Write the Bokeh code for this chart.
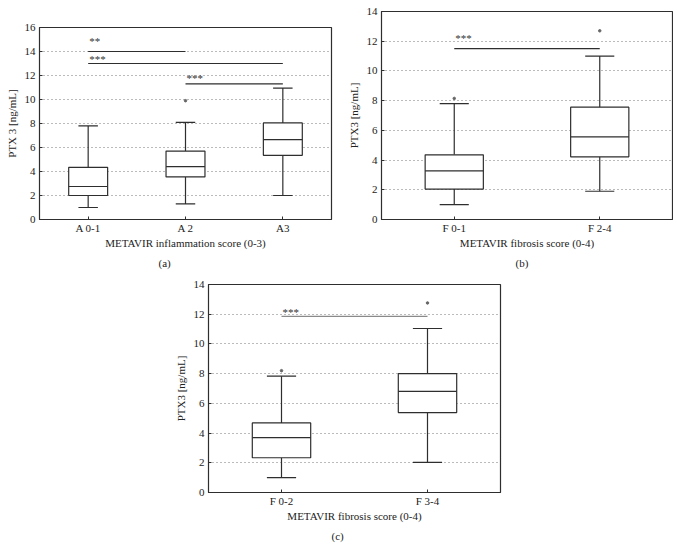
from bokeh.plotting import figure
from bokeh.models import Range1d, FactorRange, SingleIntervalTicker, Title, ColumnDataSource
from bokeh.transform import dodge
from bokeh.layouts import column, row
from bokeh.core.properties import value
from bokeh.embed import file_html
from bokeh.resources import INLINE

# ---------------- data ----------------
# (a) METAVIR inflammation score
cats_a = ["A 0-1", "A 2", "A3"]
low_a = [1.0, 1.3, 2.0]
q1_a = [2.0, 3.55, 5.35]
med_a = [2.75, 4.4, 6.65]
q3_a = [4.35, 5.7, 8.05]
high_a = [7.8, 8.1, 10.95]
out_x_a = ["A 2"]
out_y_a = [9.9]
sig_from_a = ["A 0-1", "A 0-1", "A 2"]
sig_to_a = ["A 2", "A3", "A3"]
sig_y_a = [14.0, 13.0, 11.3]
sig_text_a = ["**", "***", "***"]
sig_text_y_a = [14.8, 13.3, 11.75]

# (b) METAVIR fibrosis score F0-1 vs F2-4
cats_b = ["F 0-1", "F 2-4"]
low_b = [1.0, 1.9]
q1_b = [2.05, 4.22]
med_b = [3.27, 5.56]
q3_b = [4.35, 7.56]
high_b = [7.8, 11.0]
out_x_b = ["F 0-1", "F 2-4"]
out_y_b = [8.15, 12.7]
sig_from_b = ["F 0-1"]
sig_to_b = ["F 2-4"]
sig_y_b = [11.5]
sig_text_b = ["***"]
sig_text_y_b = [12.15]

# (c) METAVIR fibrosis score F0-2 vs F3-4
cats_c = ["F 0-2", "F 3-4"]
low_c = [1.0, 2.03]
q1_c = [2.34, 5.38]
med_c = [3.69, 6.8]
q3_c = [4.68, 8.0]
high_c = [7.83, 11.04]
out_x_c = ["F 0-2", "F 3-4"]
out_y_c = [8.2, 12.76]
sig_from_c = ["F 0-2"]
sig_to_c = ["F 3-4"]
sig_y_c = [11.85]
sig_text_c = ["***"]
sig_text_y_c = [12.08]

FONT = "Liberation Serif"
INK = "#2e2e2e"


def panel(cats, low, q1, med, q3, high, out_x, out_y,
          sig_from, sig_to, sig_y, sig_text, sig_text_y, sig_line_color,
          ymax, ylabel, xlabel, caption, cap_offset,
          fw, fh, bl, bt, br, bb):
    p = figure(x_range=FactorRange(*cats), y_range=Range1d(0, ymax),
               width=None, height=None, frame_width=fw, frame_height=fh,
               min_border_left=bl, min_border_top=bt, min_border_right=br,
               min_border_bottom=bb, title_location=None, frame_align=False,
               toolbar_location=None, output_backend="svg")
    p.outline_line_color = INK
    p.outline_line_width = 1.2
    p.background_fill_color = "white"
    p.border_fill_color = "white"
    p.xgrid.visible = False
    p.ygrid.grid_line_color = "#777777"
    p.ygrid.grid_line_dash = "1 3"
    p.ygrid.grid_line_width = 1
    p.yaxis.ticker = SingleIntervalTicker(interval=2, num_minor_ticks=0)
    for ax in (p.xaxis[0], p.yaxis[0]):
        ax.axis_line_color = INK
        ax.major_tick_in = 3
        ax.major_tick_out = 0
        ax.minor_tick_line_color = None
        ax.major_tick_line_color = INK
        ax.major_label_text_font = FONT
        ax.major_label_text_font_size = "11px"
        ax.major_label_text_color = "#222222"
        ax.axis_label_text_font = FONT
        ax.axis_label_text_font_size = "11px"
        ax.axis_label_text_font_style = "normal"
        ax.axis_label_text_color = "#222222"
    p.xaxis.major_label_standoff = 2
    p.xaxis.axis_label_standoff = 0
    p.yaxis.major_label_standoff = 4
    p.yaxis.axis_label_standoff = 4
    p.xaxis.axis_label = xlabel
    p.yaxis.axis_label = ylabel

    src = ColumnDataSource(dict(cat=cats, low=low, q1=q1, med=med, q3=q3, high=high))
    # whiskers
    p.segment(x0="cat", y0="low", x1="cat", y1="q1", source=src, line_color=INK, line_width=1.2)
    p.segment(x0="cat", y0="q3", x1="cat", y1="high", source=src, line_color=INK, line_width=1.2)
    p.segment(x0=dodge("cat", -0.1, range=p.x_range), y0="low",
              x1=dodge("cat", 0.1, range=p.x_range), y1="low",
              source=src, line_color=INK, line_width=1.2)
    p.segment(x0=dodge("cat", -0.1, range=p.x_range), y0="high",
              x1=dodge("cat", 0.1, range=p.x_range), y1="high",
              source=src, line_color=INK, line_width=1.2)
    # boxes
    p.vbar(x="cat", width=0.4, bottom="q1", top="q3", source=src,
           fill_color="white", line_color=INK, line_width=1.2)
    p.segment(x0=dodge("cat", -0.2, range=p.x_range), y0="med",
              x1=dodge("cat", 0.2, range=p.x_range), y1="med",
              source=src, line_color=INK, line_width=1.2)
    # outliers
    p.scatter(x=out_x, y=out_y, size=2.5, marker="circle",
              fill_color="#666666", line_color="#666666")
    # significance bars
    p.segment(x0=sig_from, y0=sig_y, x1=sig_to, y1=sig_y,
              line_color=sig_line_color, line_width=1.2)
    p.text(x=sig_from, y=sig_text_y, text=sig_text, text_font=value(FONT),
           text_font_size="11px", text_color="#333333", text_align="left",
           text_baseline="middle", x_offset=1, y_offset=-1)

    t = Title(text=caption, align="left", offset=cap_offset, text_font=FONT,
              text_font_size="11px", text_font_style="normal",
              text_color="#222222", standoff=7)
    p.add_layout(t, "below")
    return p


pa = panel(cats_a, low_a, q1_a, med_a, q3_a, high_a, out_x_a, out_y_a,
           sig_from_a, sig_to_a, sig_y_a, sig_text_a, sig_text_y_a, INK,
           16, "PTX 3 [ng/mL]", "METAVIR inflammation score (0-3)", "(a)", 119,
           292, 192, 39, 27, 13, 57)
pb = panel(cats_b, low_b, q1_b, med_b, q3_b, high_b, out_x_b, out_y_b,
           sig_from_b, sig_to_b, sig_y_b, sig_text_b, sig_text_y_b, INK,
           14, "PTX3 [ng/mL]", "METAVIR fibrosis score (0-4)", "(b)", 134,
           291, 208, 33, 11, 1, 57)
pc = panel(cats_c, low_c, q1_c, med_c, q3_c, high_c, out_x_c, out_y_c,
           sig_from_c, sig_to_c, sig_y_c, sig_text_c, sig_text_y_c, "#8a8a8a",
           14, "PTX3 [ng/mL]", "METAVIR fibrosis score (0-4)", "(c)", 123,
           292, 208, 208, 8, 169, 56)

layout = column(row(pa, pb), pc)
open("out.html", "w").write(file_html(layout, INLINE))
